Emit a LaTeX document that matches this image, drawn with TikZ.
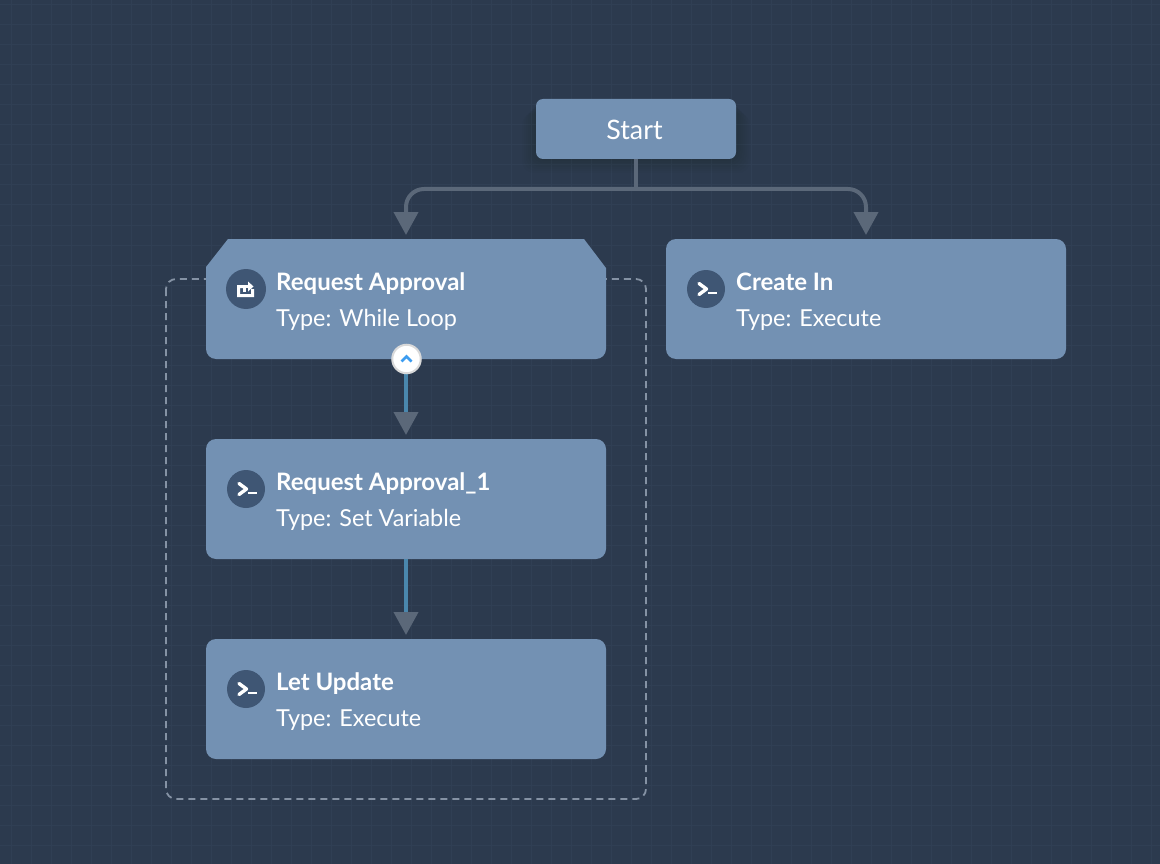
\documentclass[tikz,border=0pt]{standalone}
\usepackage{fontspec}
\setmainfont{Lato}
\usetikzlibrary{arrows.meta}

\definecolor{bgcol}{HTML}{2C3A4E}
\definecolor{gridcol}{HTML}{303F54}
\definecolor{boxcol}{HTML}{7391B3}
\definecolor{iconcol}{HTML}{3F5674}
\definecolor{linecol}{HTML}{5B6879}
\definecolor{flowcol}{HTML}{4A87AD}
\definecolor{dashcol}{HTML}{8592A4}
\definecolor{chevcol}{HTML}{3C9CF0}

\tikzset{
  nodebox/.style={minimum width=400pt,minimum height=120pt,inner sep=0pt,outer sep=0pt,rounded corners=10pt,fill=boxcol},
  blankbox/.style={minimum width=400pt,minimum height=120pt,inner sep=0pt,outer sep=0pt},
  startbox/.style={minimum width=200pt,minimum height=60pt,inner sep=0pt,outer sep=0pt,rounded corners=7pt,fill=boxcol},
  starttext/.style={anchor=base,inner sep=0pt,text=white,font=\fontsize{26.8}{32}\selectfont},
  titletext/.style={anchor=base west,inner sep=0pt,text=white,font=\fontsize{24}{29}\selectfont\bfseries},
  typetext/.style={anchor=base west,inner sep=0pt,text=white,font=\fontsize{23.4}{28}\selectfont},
  iconball/.style={circle,fill=iconcol,inner sep=0pt,minimum size=38pt},
  toggleball/.style={circle,fill=white,draw=black!15,line width=2pt,inner sep=0pt,minimum size=28.5pt},
  branch/.style={draw=linecol,line width=4pt,rounded corners=18pt,shorten >=4pt,-{Triangle[width=24pt,length=23pt,color=linecol]}},
  stem/.style={draw=linecol,line width=4pt},
  flow/.style={draw=flowcol,line width=4pt,shorten >=4pt,-{Triangle[width=24pt,length=23pt,color=linecol]}},
}

% prompt glyph inside an icon circle
\newcommand{\prompticon}[1]{
  \draw[white,line width=3.4pt,line cap=round,line join=round] ([shift={(-7,-5.5)}]#1.center) -- ++(7.5,5.5) -- ++(-7.5,5.5);
  \draw[white,line width=2pt] ([shift={(2,3.5)}]#1.center) -- ++(9,0);
}

\begin{document}
\begin{tikzpicture}[x=1pt,y=-1pt]
% Background
\fill[bgcol] (0,0) rectangle (1160,864);
\useasboundingbox (0,0) rectangle (1160,864);
\foreach \gx in {11,31,...,1151} \draw[gridcol,line width=1pt] (\gx,0) -- (\gx,864);
\foreach \gy in {5,25,...,845} \draw[gridcol,line width=1pt] (0,\gy) -- (1160,\gy);

% Loop frame
\draw[dashcol,line width=1.8pt,dash pattern=on 7pt off 5pt,rounded corners=10pt] (166,279) rectangle (646,799);

% Soft shade under Start
\foreach \sh in {2,4,...,14} \fill[black,opacity=.014,rounded corners=12pt] (536-\sh,99+\sh) rectangle (736+\sh,159+\sh);

% Boxes
\node[startbox] (start) at (636,129) {};
\fill[boxcol] (206,267) -- (228,239) -- (584,239) -- (606,268) [rounded corners=10pt] -- (606,359) -- (206,359) [sharp corners] -- (206,267) -- cycle;
\node[blankbox] (loop) at (406,299) {};
\node[nodebox] (create) at (866,299) {};
\node[nodebox] (approval) at (406,499) {};
\node[nodebox] (update) at (406,699) {};

% Labels
\node[starttext] (start-title) at (634.5,140) {Start};
\node[titletext] (loop-title) at (276,290) {Request Approval};
\node[typetext] (loop-type) at (276,326) {Type: While Loop};
\node[titletext] (create-title) at (736,290) {Create In};
\node[typetext] (create-type) at (736,326) {Type: Execute};
\node[titletext] (approval-title) at (276,490) {Request Approval\_1};
\node[typetext] (approval-type) at (276,526) {Type: Set Variable};
\node[titletext] (update-title) at (276,690) {Let Update};
\node[typetext] (update-type) at (276,726) {Type: Execute};

% Icons
\node[iconball,minimum size=40pt] (loop-icon) at (246,289) {};
\fill[white] (237,285) -- (243,285) -- (243,288) -- (240,288) -- (240,294) -- (251,294) -- (251,289) -- (254,289) -- (254,297) -- (237,297) -- cycle;
\draw[white,line width=2.6pt] (244.5,292) -- (244.5,286.5) -- (249,286.5);
\fill[white] (248,281.5) -- (253.5,286.5) -- (248,291.5) -- cycle;
\node[iconball] (create-icon) at (706,289) {};
\prompticon{create-icon}
\node[iconball] (approval-icon) at (246,489) {};
\prompticon{approval-icon}
\node[iconball] (update-icon) at (246,689) {};
\prompticon{update-icon}

% Connectors
\coordinate (fork) at (636,189);
\path[stem] (start.south) -- (fork);
\path[branch] (fork) -| (loop.north);
\path[branch] (fork) -| (create.north);
\path[flow] (loop.south) -- (approval.north);
\path[flow] (approval.south) -- (update.north);

% Toggle
\node[toggleball] (toggle) at (406.5,359) {};
\draw[chevcol,line width=2.6pt] (401.5,361.5) -- (406.5,356.5) -- (411.5,361.5);
\end{tikzpicture}
\end{document}
